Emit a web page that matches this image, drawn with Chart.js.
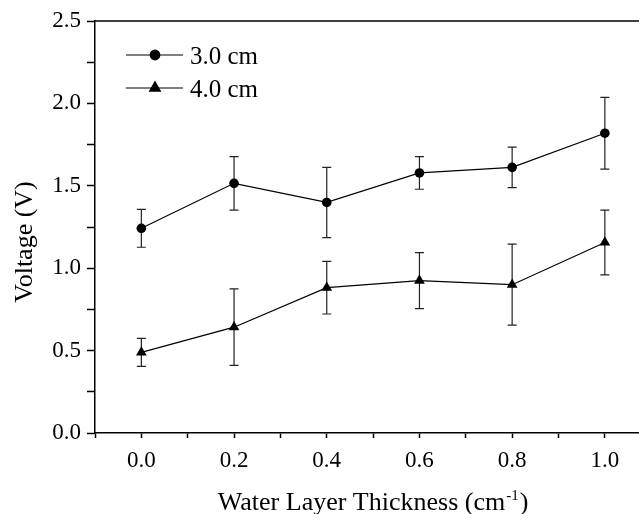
<!DOCTYPE html>
<html>
<head>
<meta charset="utf-8">
<script src="https://cdn.jsdelivr.net/npm/chart.js@4"></script>
<style>
  html, body { margin: 0; padding: 0; background: #fff; overflow: hidden; }
  #wrap { width: 639px; height: 514px; }
</style>
</head>
<body>
<div id="wrap"><canvas id="voltChart" width="639" height="514"></canvas></div>
<script>
const FONT = "'Liberation Serif', 'Times New Roman', serif";

// water layer thickness (cm^-1)
const thickness = [0, 0.2, 0.4, 0.6, 0.8, 1.0];
const volt30 = [1.242, 1.515, 1.399, 1.578, 1.612, 1.819];
const err30 = [0.115, 0.162, 0.213, 0.099, 0.123, 0.218];
const volt40 = [0.489, 0.642, 0.882, 0.925, 0.900, 1.156];
const err40 = [0.085, 0.232, 0.160, 0.170, 0.246, 0.197];
const seriesNames = ['3.0 cm', '4.0 cm'];
const xTicks = [-0.1, 0, 0.1, 0.2, 0.3, 0.4, 0.5, 0.6, 0.7, 0.8, 0.9, 1.0];
const yTicks = [0, 0.25, 0.5, 0.75, 1.0, 1.25, 1.5, 1.75, 2.0, 2.25, 2.5];

const toPoints = (ys) => thickness.map((x, i) => ({ x, y: ys[i] }));

const errorBars = {
    id: 'errorBars',
    beforeDatasetsDraw(chart) {
        const { ctx, scales: { x, y } } = chart;
        const errs = [err30, err40];
        ctx.save();
        ctx.strokeStyle = '#222';
        ctx.lineWidth = 1.2;
        chart.data.datasets.forEach((ds, di) => {
            ds.data.forEach((p, i) => {
                const px = x.getPixelForValue(p.x);
                const top = y.getPixelForValue(p.y + errs[di][i]);
                const bot = y.getPixelForValue(p.y - errs[di][i]);
                ctx.beginPath();
                ctx.moveTo(px, top); ctx.lineTo(px, bot);
                ctx.moveTo(px - 4.5, top); ctx.lineTo(px + 4.5, top);
                ctx.moveTo(px - 4.5, bot); ctx.lineTo(px + 4.5, bot);
                ctx.stroke();
            });
        });
        ctx.restore();
    }
};

const frameAndLabels = {
    id: 'frameAndLabels',
    afterDraw(chart) {
        const { ctx, chartArea: a, scales: { x } } = chart;
        ctx.save();
        // top frame line
        ctx.strokeStyle = '#000';
        ctx.lineWidth = 1.5;
        ctx.beginPath();
        ctx.moveTo(a.left, a.top); ctx.lineTo(chart.width, a.top);
        ctx.stroke();

        // legend
        chart.data.datasets.forEach((ds, i) => {
            const ly = a.top + 34 + i * 33;
            const lx = a.left + 31;
            ctx.strokeStyle = '#000';
            ctx.lineWidth = 1.2;
            ctx.beginPath();
            ctx.moveTo(lx, ly); ctx.lineTo(lx + 57, ly);
            ctx.stroke();
            Chart.helpers.drawPoint(ctx, {
                pointStyle: ds.pointStyle, radius: ds.pointRadius, borderWidth: 1
            }, lx + 29, ly);
            ctx.fillStyle = '#000';
            ctx.font = '25px ' + FONT;
            ctx.textBaseline = 'middle';
            ctx.textAlign = 'left';
            ctx.fillText(seriesNames[i], lx + 64, ly + 2);
        });

        // y title
        ctx.fillStyle = '#000';
        ctx.font = '26px ' + FONT;
        ctx.save();
        ctx.translate(25, (a.top + a.bottom) / 2 + 15);
        ctx.rotate(-Math.PI / 2);
        ctx.textAlign = 'center';
        ctx.textBaseline = 'middle';
        ctx.fillText('Voltage (V)', 0, 0);
        ctx.restore();

        // x title with superscript
        const main = 'Water Layer Thickness (cm';
        const sup = '-1';
        const tail = ')';
        ctx.textBaseline = 'alphabetic';
        ctx.textAlign = 'left';
        ctx.font = '26px ' + FONT;
        const wMain = ctx.measureText(main).width;
        const wTail = ctx.measureText(tail).width;
        ctx.font = '15px ' + FONT;
        const wSup = ctx.measureText(sup).width;
        const total = wMain + wSup + wTail + 2;
        let tx = x.getPixelForValue(0.5) - total / 2;
        const ty = 510;
        ctx.font = '26px ' + FONT;
        ctx.fillText(main, tx, ty);
        tx += wMain + 1;
        ctx.font = '15px ' + FONT;
        ctx.fillText(sup, tx, ty - 10);
        tx += wSup + 1;
        ctx.font = '26px ' + FONT;
        ctx.fillText(tail, tx, ty);
        ctx.restore();
    }
};

new Chart(document.getElementById('voltChart'), {
    type: 'scatter',
    data: {
        datasets: [
            {
                label: seriesNames[0],
                data: toPoints(volt30),
                showLine: true,
                borderColor: '#000',
                borderWidth: 1.2,
                backgroundColor: '#000',
                pointStyle: 'circle',
                pointRadius: 4.8,
                pointBorderWidth: 0,
            },
            {
                label: seriesNames[1],
                data: toPoints(volt40),
                showLine: true,
                borderColor: '#000',
                borderWidth: 1.2,
                backgroundColor: '#000',
                pointStyle: 'triangle',
                pointRadius: 6.2,
                pointBorderWidth: 0,
            },
        ],
    },
    options: {
        responsive: false,
        animation: false,
        devicePixelRatio: 1,
        layout: { autoPadding: false, padding: { top: 21, right: 0, left: 0, bottom: 0 } },
        plugins: { legend: { display: false }, tooltip: { enabled: false } },
        scales: {
            x: {
                type: 'linear',
                min: -0.1,
                max: 1.0737,
                afterBuildTicks: (s) => { s.ticks = xTicks.map((v) => ({ value: v })); },
                afterFit: (s) => { s.height = 81; s.paddingRight = 0; s.paddingLeft = 0; },
                grid: { drawOnChartArea: false, drawTicks: true, tickLength: 5, tickColor: '#000', tickWidth: 1.5 },
                border: { display: true, color: '#000', width: 1.5 },
                ticks: {
                    color: '#000',
                    padding: 9,
                    maxRotation: 0,
                    autoSkip: false,
                    font: { family: FONT, size: 23 },
                    callback: (v) => (Math.round(v * 10) % 2 === 0 && v >= 0 ? v.toFixed(1) : ''),
                },
            },
            y: {
                min: 0,
                max: 2.5,
                afterBuildTicks: (s) => { s.ticks = yTicks.map((v) => ({ value: v })); },
                afterFit: (s) => { s.width = 95; s.paddingTop = 0; s.paddingBottom = 0; },
                grid: { drawOnChartArea: false, drawTicks: true, tickLength: 8, tickColor: '#000', tickWidth: 1.5 },
                border: { display: true, color: '#000', width: 1.5 },
                ticks: {
                    color: '#000',
                    padding: 6,
                    autoSkip: false,
                    font: { family: FONT, size: 23 },
                    callback: (v) => (Math.round(v * 100) % 50 === 0 ? v.toFixed(1) : ''),
                },
            },
        },
    },
    plugins: [errorBars, frameAndLabels],
});
</script>
</body>
</html>
